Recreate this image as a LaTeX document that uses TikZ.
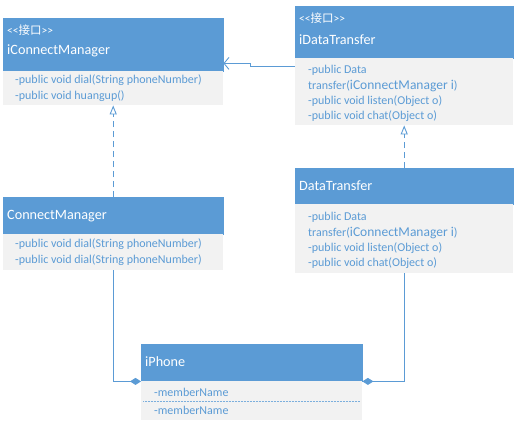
\documentclass[tikz,border=0pt]{standalone}
\usepackage{fontspec}
\setmainfont{Carlito}
\newfontfamily\cjk{Noto Sans CJK SC}
\usetikzlibrary{arrows.meta, calc}
\definecolor{headBlue}{HTML}{5B9BD5}
\definecolor{bodyGray}{HTML}{F2F2F2}
\definecolor{memberBlue}{HTML}{5B9BD5}

\begin{document}
\begin{tikzpicture}[x=1pt, y=-1pt,
    head/.style={fill=headBlue, draw=headBlue, anchor=north west, inner sep=0pt},
    body/.style={fill=bodyGray, anchor=north west, inner sep=0pt},
    stereo/.style={anchor=west, inner sep=0pt, text=white, font=\fontsize{11.5}{13}\selectfont},
    title/.style={anchor=west, inner sep=0pt, text=white, font=\fontsize{14.2}{16}\selectfont},
    member/.style={anchor=west, inner sep=0pt, text=memberBlue, font=\fontsize{12}{14}\selectfont},
    link/.style={draw=headBlue, line width=0.9pt},
    realize/.style={link, dash pattern=on 6pt off 4pt, -{Triangle[open, length=9pt, width=7pt]}},
    owns/.style={link, -{Diamond[length=11pt, width=7pt]}}]
    \useasboundingbox (0,0) rectangle (519,424);

    % interface iConnectManager
    \node[head, minimum width=220pt, minimum height=53pt] (icmHead) at (3,18) {};
    \node[body, minimum width=220pt, minimum height=34pt] (icmBody) at (3,71) {};
    \node[stereo] (icmStereo) at (7,30) {<\kern0pt<{\cjk 接口}>\kern0pt>};
    \node[title] (icmTitle) at (7,51) {iConnectManager};
    \node[member] (icmDial) at (15,80) {-public void dial(String phoneNumber)};
    \node[member] (icmHang) at (15,96) {-public void huangup()};

    % interface iDataTransfer
    \node[head, minimum width=218pt, minimum height=52pt] (idtHead) at (295,6) {};
    \node[body, minimum width=218pt, minimum height=67pt] (idtBody) at (295,58) {};
    \node[stereo] (idtStereo) at (299,18) {<\kern0pt<{\cjk 接口}>\kern0pt>};
    \node[title] (idtTitle) at (299,40) {iDataTransfer};
    \node[member] (idtData) at (308,70) {-public Data};
    \node[member] (idtTransfer) at (308,86) {transfer({\fontsize{13.5}{15}\selectfont iConnectManager i})};
    \node[member] (idtListen) at (308,101) {-public void listen(Object o)};
    \node[member] (idtChat) at (308,116) {-public void chat(Object o)};

    % class ConnectManager
    \node[head, minimum width=220pt, minimum height=37pt] (cmHead) at (3,197) {};
    \node[body, minimum width=220pt, minimum height=36pt] (cmBody) at (3,234) {};
    \node[title] (cmTitle) at (7,216) {ConnectManager};
    \node[member] (cmDialA) at (15,244) {-public void dial(String phoneNumber)};
    \node[member] (cmDialB) at (15,260) {-public void dial(String phoneNumber)};

    % class DataTransfer
    \node[head, minimum width=218pt, minimum height=36pt] (dtHead) at (295,168) {};
    \node[body, minimum width=218pt, minimum height=69pt] (dtBody) at (295,204) {};
    \node[title] (dtTitle) at (299,186) {DataTransfer};
    \node[member] (dtData) at (308,217) {-public Data};
    \node[member] (dtTransfer) at (308,233) {transfer({\fontsize{13.5}{15}\selectfont iConnectManager i})};
    \node[member] (dtListen) at (308,248) {-public void listen(Object o)};
    \node[member] (dtChat) at (308,263) {-public void chat(Object o)};

    % class iPhone
    \node[head, minimum width=221pt, minimum height=37pt] (phHead) at (141,344) {};
    \node[body, minimum width=221pt, minimum height=39pt] (phBody) at (141,381) {};
    \node[title] (phTitle) at (145,362) {iPhone};
    \node[member] (phNameA) at (154,392) {-memberName};
    \node[member] (phNameB) at (154,410) {-memberName};
    \draw[headBlue!80, densely dotted, line width=0.5pt] (143,401) -- (360,401);

    % relations
    \draw[realize] (cmHead.north) -- (icmBody.south);
    \draw[realize] (dtHead.north) -- (idtBody.south);
    \coordinate (assocJog) at (250,66);
    \draw[link, -{Straight Barb[length=5pt, width=12pt]}]
        (idtBody.west |- assocJog) -- (assocJog) |- ($(icmHead.south east)+(0,-8)$);
    \draw[owns] (cmBody.south) |- (phHead.south west);
    \draw[owns] (dtBody.south) |- (phHead.south east);
\end{tikzpicture}
\end{document}
